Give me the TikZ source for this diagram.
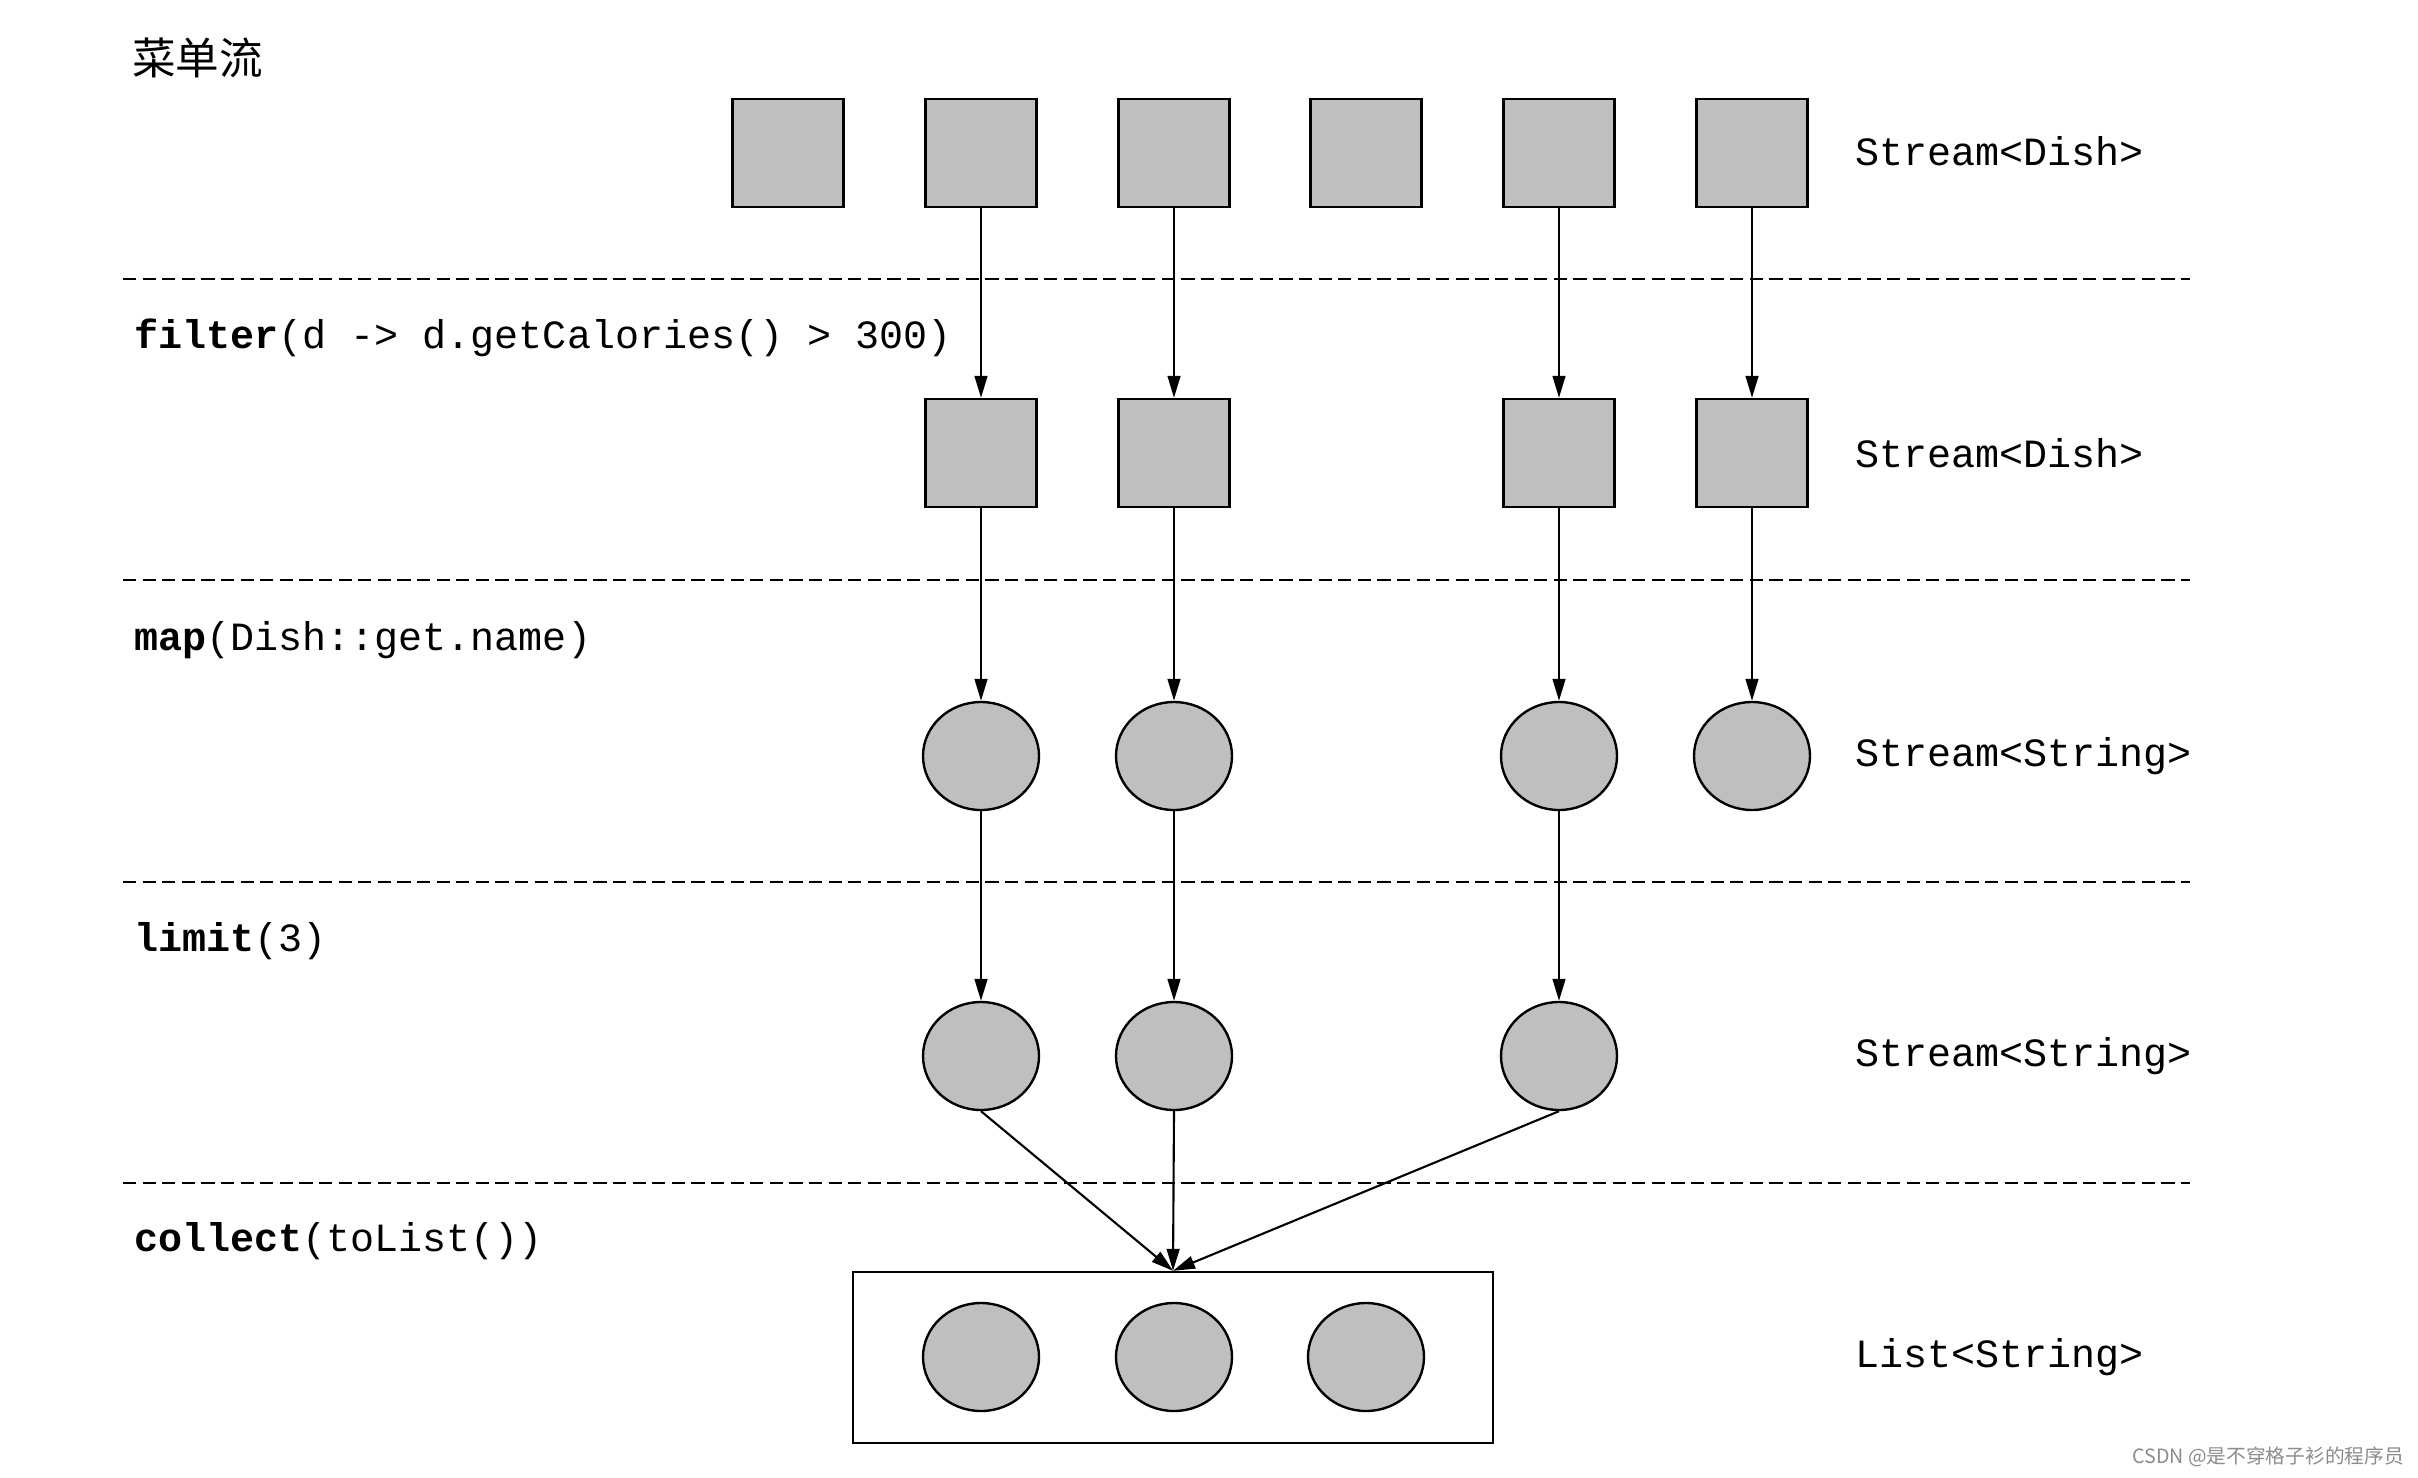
\documentclass[tikz,border=0pt]{standalone}
\usepackage{fontspec}
\setmonofont{Liberation Mono}
\newfontfamily\cjkfont{Noto Sans CJK SC}
\usetikzlibrary{shapes.geometric,arrows.meta}
\begin{document}
\begin{tikzpicture}[x=0.25mm,y=-0.25mm,
  sq/.style={draw=black,fill=boxgray,line width=1.7pt,minimum width=27.75mm,minimum height=27mm,inner sep=0pt},
  el/.style={ellipse,draw=black,fill=boxgray,line width=1.7pt,minimum width=29mm,minimum height=27mm,inner sep=0pt},
  sep/.style={line width=1.5pt,dash pattern=on 3.3mm off 1.6mm},
  flow/.style={line width=1.5pt,-{Triangle[length=5.5mm,width=3.2mm]}},
  code/.style={anchor=west,inner sep=0pt,font=\fontsize{28.5}{34}\selectfont\ttfamily},
]
\definecolor{boxgray}{HTML}{BFBFBF}
\useasboundingbox (0,0) rectangle (2418,1478);
\fill[white] (0,0) rectangle (2418,1478);

\node[anchor=west,inner sep=0pt,font=\cjkfont\fontsize{31}{36}\selectfont] (title) at (132,58) {菜单流};

% separators
\foreach \y/\n in {279/a,580/b,882/c,1183/d}{
  \coordinate (l\n) at (123,\y);
  \coordinate (r\n) at (2190,\y);
  \draw[sep] (l\n) -- (r\n);
}

% row 1
\node[sq] (s11) at (788,153) {};
\node[sq] (s12) at (981,153) {};
\node[sq] (s13) at (1174,153) {};
\node[sq] (s14) at (1366,153) {};
\node[sq] (s15) at (1559,153) {};
\node[sq] (s16) at (1752,153) {};
% row 2
\node[sq] (s22) at (981,453) {};
\node[sq] (s23) at (1174,453) {};
\node[sq] (s25) at (1559,453) {};
\node[sq] (s26) at (1752,453) {};
% row 3
\node[el] (e32) at (981,756) {};
\node[el] (e33) at (1174,756) {};
\node[el] (e35) at (1559,756) {};
\node[el] (e36) at (1752,756) {};
% row 4
\node[el] (e42) at (981,1056) {};
\node[el] (e43) at (1174,1056) {};
\node[el] (e45) at (1559,1056) {};
% list box
\node[draw=black,line width=1.7pt,minimum width=160mm,minimum height=42.75mm,inner sep=0pt] (lst) at (1173,1357.5) {};
\node[el] (c1) at (981,1357) {};
\node[el] (c2) at (1174,1357) {};
\node[el] (c3) at (1366,1357) {};

% arrows
\draw[flow] (s12) -- (s22);
\draw[flow] (s13) -- (s23);
\draw[flow] (s15) -- (s25);
\draw[flow] (s16) -- (s26);
\draw[flow] (s22) -- (e32);
\draw[flow] (s23) -- (e33);
\draw[flow] (s25) -- (e35);
\draw[flow] (s26) -- (e36);
\draw[flow] (e32) -- (e42);
\draw[flow] (e33) -- (e43);
\draw[flow] (e35) -- (e45);
\draw[flow] (e42.south) -- (lst.north);
\draw[flow] (e43.south) -- (lst.north);
\draw[flow] (e45.south) -- (lst.north);

% operation labels
\node[code] (t1) at (134,338) {\textbf{filter}(d -> d.getCalories() > 300)};
\node[code] (t2) at (134,640) {\textbf{map}(Dish::get.name)};
\node[code] (t3) at (134,941) {\textbf{limit}(3)};
\node[code] (t4) at (134,1241) {\textbf{collect}(toList())};

% type labels
\node[code] (y1) at (1855,151) {Stream<Dish>};
\node[code] (y2) at (1855,453) {Stream<Dish>};
\node[code] (y3) at (1855,756) {Stream<String>};
\node[code] (y4) at (1855,1056) {Stream<String>};
\node[code] (y5) at (1855,1357) {List<String>};

\node[anchor=east,inner sep=0pt,text=black!45,font=\cjkfont\fontsize{14}{16}\selectfont] (wm) at (2404,1457) {CSDN @是不穿格子衫的程序员};
\end{tikzpicture}
\end{document}
